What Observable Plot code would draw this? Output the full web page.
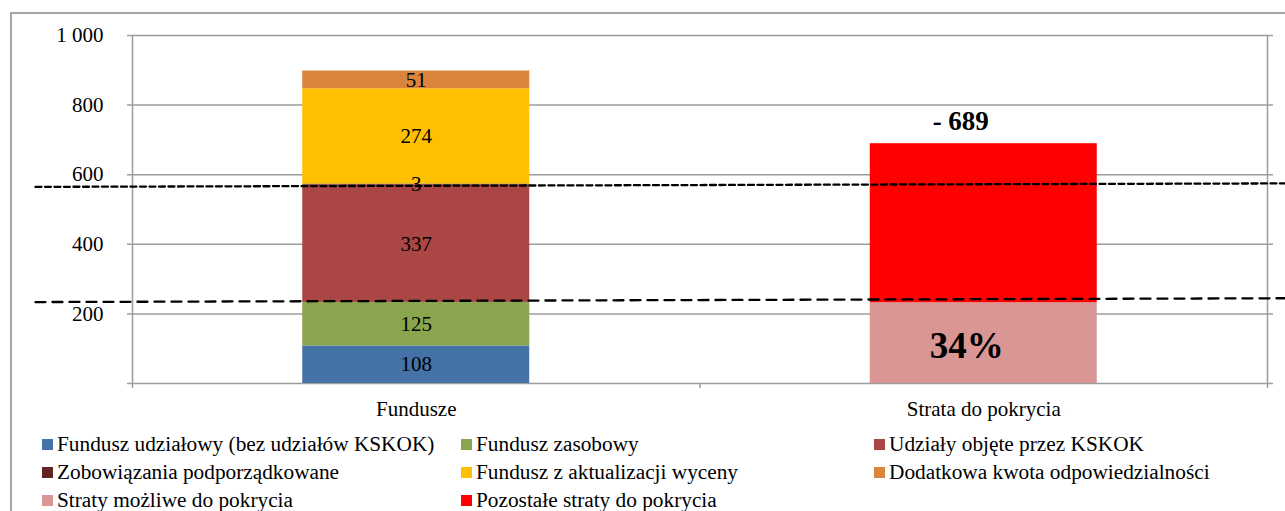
<!DOCTYPE html>
<html>
<head>
<meta charset="utf-8">
<script src="https://cdn.jsdelivr.net/npm/d3@7"></script>
<script src="https://cdn.jsdelivr.net/npm/@observablehq/plot@0.6"></script>
<style>
  body { margin: 0; background: #fff; font-family: "Liberation Serif", "Times New Roman", serif; }
  #wrap { position: relative; width: 1285px; height: 511px; overflow: hidden; }
  #frame { position: absolute; left: 10px; top: 12px; width: 1400px; height: 600px;
           border-left: 2px solid #a6a6a6; border-top: 2px solid #a6a6a6; }
  #chart { position: absolute; left: 0; top: 0; width: 1285px; }
  #chart svg { display: block; background: transparent; }
  .legend { display: grid; grid-template-columns: 419px 413px 1fr; padding-left: 42px;
            font-size: 21.3px; color: #000; }
  .li { height: 28px; line-height: 28px; white-space: nowrap; display: flex; align-items: center; }
  .sw { display: inline-block; width: 11px; height: 11px; margin-right: 4px; flex: none; }
</style>
</head>
<body>
<div id="wrap">
  <div id="frame"></div>
  <div id="chart"></div>
</div>
<script>
// ---- data ----
const categories = ["Fundusze", "Strata do pokrycia"];
const fundSeries = [
  "Fundusz udziałowy (bez udziałów KSKOK)",
  "Fundusz zasobowy",
  "Udziały objęte przez KSKOK",
  "Zobowiązania podporządkowane",
  "Fundusz z aktualizacji wyceny",
  "Dodatkowa kwota odpowiedzialności"
];
const fundValues = [108, 125, 337, 3, 274, 51];
const strataSeries = ["Straty możliwe do pokrycia", "Pozostałe straty do pokrycia"];
const strataValues = [232, 457];
const strataTotalLabel = "- 689";
const coverageLabel = "34%";
const seriesColors = ["#4572A7", "#89A54E", "#AA4643", "#632523", "#FFC000", "#DB843D", "#D99694", "#FF0000"];
const yTicks = [0, 200, 400, 600, 800, 1000];
const yTickLabels = ["", "200", "400", "600", "800", "1 000"];
const dashX = [-0.171, 2.032];
const upperDashY = [565, 575];
const lowerDashY = [234, 245];

// ---- build stacked rows ----
function stackRows(ci, names, values) {
  const ends = d3.cumsum(values);
  return names.map((s, i) => ({ ci, series: s, value: values[i], y1: ends[i] - values[i], y2: ends[i] }));
}
const fundRows = stackRows(0, fundSeries, fundValues);
const strataRows = stackRows(1, strataSeries, strataValues);
const rows = fundRows.concat(strataRows);
const allSeries = fundSeries.concat(strataSeries);
const strataTop = d3.sum(strataValues);
const dashUpper = dashX.map((x, i) => ({ x, y: upperDashY[i] }));
const dashLower = dashX.map((x, i) => ({ x, y: lowerDashY[i] }));

const gridColor = "#9c9c9c";

const plot = Plot.plot({
  width: 1285,
  height: 430,
  marginLeft: 132,
  marginRight: 18,
  marginTop: 35,
  marginBottom: 47,
  style: { fontFamily: "'Liberation Serif', 'Times New Roman', serif", fontSize: "21px", background: "transparent", color: "#000" },
  x: { type: "linear", domain: [0, 2], label: null },
  y: { domain: [0, 1000], label: null },
  color: { domain: allSeries, range: seriesColors },
  marks: [
    Plot.ruleY(yTicks, { stroke: gridColor, strokeWidth: 1.5, insetLeft: -5, insetRight: -6 }),
    Plot.ruleX([0, 2], { y1: 1000, y2: 0, stroke: gridColor, strokeWidth: 1.5, insetBottom: -5 }),
    Plot.ruleX([1], { y1: 0, y2: 0, stroke: gridColor, strokeWidth: 1.5, insetBottom: -5 }),
    Plot.rect(rows, { x1: d => d.ci + 0.3, x2: d => d.ci + 0.7, y1: "y1", y2: "y2", fill: "series" }),
    Plot.text(fundRows, { x: d => d.ci + 0.5, y: d => (d.y1 + d.y2) / 2, text: d => String(d.value), fill: "#000", fontSize: 21 }),
    Plot.text([strataTotalLabel], { x: () => 1.5, y: () => strataTop, text: d => d, dy: -22, dx: -23, fontWeight: "bold", fontSize: 27, fill: "#000" }),
    Plot.text([coverageLabel], { x: () => 1.5, y: () => strataValues[0] / 2, text: d => d, dy: 3, dx: -17, fontWeight: "bold", fontSize: 37, fill: "#000" }),
    Plot.line(dashUpper, { x: "x", y: "y", stroke: "#000", strokeWidth: 2.3, strokeDasharray: "6,3.5" }),
    Plot.line(dashLower, { x: "x", y: "y", stroke: "#000", strokeWidth: 2.3, strokeDasharray: "10,7" }),
    Plot.axisY({ ticks: yTicks, tickFormat: d => yTickLabels[yTicks.indexOf(d)], tickSize: 0, tickPadding: 29, label: null }),
    Plot.axisX({ ticks: [0.5, 1.5], tickFormat: d => categories[Math.floor(d)], tickSize: 0, tickPadding: 18, label: null })
  ]
});

const chart = document.getElementById("chart");
chart.appendChild(plot);

// ---- legend (below the SVG) ----
const legend = document.createElement("div");
legend.className = "legend";
allSeries.forEach((s, i) => {
  const item = document.createElement("div");
  item.className = "li";
  const sw = document.createElement("span");
  sw.className = "sw";
  sw.style.background = seriesColors[i];
  item.appendChild(sw);
  item.appendChild(document.createTextNode(s));
  legend.appendChild(item);
});
chart.appendChild(legend);
</script>
</body>
</html>
